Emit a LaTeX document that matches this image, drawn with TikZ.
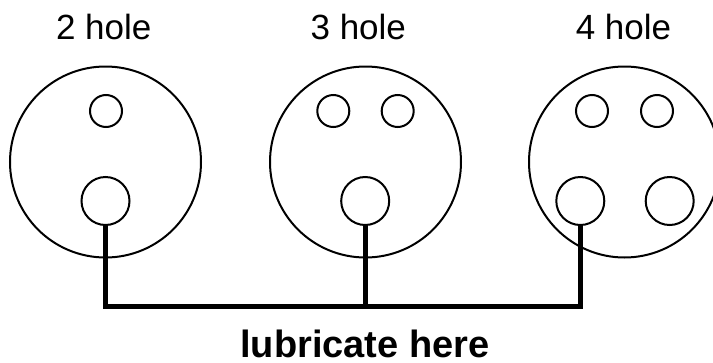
\documentclass[tikz,border=0pt]{standalone}
\usepackage{fontspec}
\setmainfont{Liberation Sans}
\begin{document}
\begin{tikzpicture}[x=1pt,y=-1pt,
  plate/.style={circle,draw,line width=2pt,minimum size=191pt,inner sep=0pt},
  smallhole/.style={circle,draw,line width=2pt,minimum size=32pt,inner sep=0pt},
  bighole/.style={circle,draw,line width=2pt,minimum size=48pt,inner sep=0pt},
  lbl/.style={anchor=base,inner sep=0pt,font=\fontsize{35}{40}\selectfont},
  biglbl/.style={anchor=base,inner sep=0pt,font=\fontsize{38}{44}\selectfont\bfseries},
  feed/.style={line width=5pt,line join=miter}]
\useasboundingbox (0,0) rectangle (713,362);
% plates
\node[plate] (p1) at (105.5,162) {};
\node[plate] (p2) at (365.5,162) {};
\node[plate] (p3) at (624.5,162) {};
% holes
\node[smallhole] (s1) at (106,111) {};
\node[bighole] (b1) at (105.5,201) {};
\node[smallhole] (s2a) at (333.3,111) {};
\node[smallhole] (s2b) at (397.7,111) {};
\node[bighole] (b2) at (365.2,201) {};
\node[smallhole] (s3a) at (592,111) {};
\node[smallhole] (s3b) at (657,111) {};
\node[bighole] (b3) at (580.3,201) {};
\node[bighole] (b3b) at (669.7,201) {};
% labels
\node[lbl] (t1) at (103.7,39.3) {2 hole};
\node[lbl] (t2) at (358.3,39.3) {3 hole};
\node[lbl] (t3) at (623.5,39.3) {4 hole};
\node[biglbl] (t4) at (365,357.5) {lubricate here};
% feed lines
\coordinate (bus) at (0,306.7);
\draw[feed] (b1.south) -- (b1.south |- bus) -- (b3.south |- bus) -- (b3.south);
\draw[feed] (b2.south) -- (b2.south |- bus);
\end{tikzpicture}
\end{document}
